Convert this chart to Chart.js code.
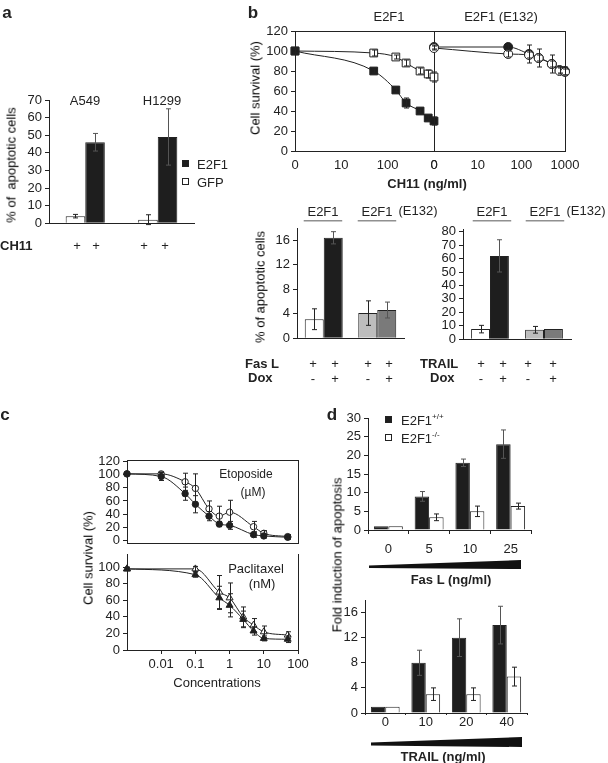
<!DOCTYPE html>
<html>
<head>
<meta charset="utf-8">
<script src="https://cdn.jsdelivr.net/npm/chart.js@4.4.0/dist/chart.umd.min.js"></script>
<style>
body { margin: 0; background: #fff; }
#fig { position: relative; width: 608px; height: 763px; overflow: hidden; font-family: "Liberation Sans", Arial, sans-serif; color: #222; }
#fig canvas { position: absolute; }
.t { position: absolute; white-space: nowrap; font-size: 13px; line-height: 1; transform: translate(-50%, -50%); will-change: transform; }
.t.l { transform: translate(0, -50%); }
.b { font-weight: bold; font-size: 13px; }
.p { font-weight: bold; font-size: 17px; }
.rot { transform: translate(-50%, -50%) rotate(-90deg); color: #000; }
.sq { position: absolute; width: 7px; height: 7px; border: 1px solid #222; box-sizing: border-box; }
.u { border-bottom: 1px solid #222; padding: 0 4px 2px; }
.wedge { position: absolute; background: #111; }
sup { font-size: 8px; vertical-align: 6px; }
</style>
</head>
<body>
<div id="fig"></div>
<script>
// ---- data ----
// a
const aCells = ['A549', 'H1299'];
const aGfp = [4, 2], aGfpErr = [1, 2.8];
const aE2f1 = [46, 49], aE2f1Err = [5, 16];

// b, survival curves (0 ng/ml is drawn at 1 on the log axis)
const bDose = [1, 50, 150, 250, 500, 750, 1000];
const bLeftTicks = ['0', '10', '100', '0'];
const bRightTicks = ['0', '10', '100', '1000'];
const bGfp = [100, 98, 94, 88, 80, 77, 74], bGfpErr = [2, 3, 2, 3, 3, 4, 5];
const bE2f1 = [100, 80, 61, 48, 40, 33, 30], bE2f1Err = [2, 2, 2, 5, 2, 2, 4];
const bE132Open = [103, 97, 96, 93, 87, 80, 79], bE132OpenErr = [2, 3, 3, 3, 3, 3, 3];
const bE132Filled = [104, 104, 97, 93, 87, 81, 80], bE132FilledErr = [2, 3, 9, 9, 9, 3, 4];

// b, apoptosis bars
const bGroups = ['E2F1', 'E2F1 (E132)'];
const fasNoDox = [3.1, 4.1], fasNoDoxErr = [1.7, 2.0];
const fasDox = [16.4, 4.6], fasDoxErr = [1.0, 1.3];
const trailNoDox = [7.5, 7], trailNoDoxErr = [2.8, 2.5];
const trailDox = [62, 7.5], trailDoxErr = [12, 0];

// c
const cTicks = ['0.01', '0.1', '1', '10', '100'];
const etoDose = [0.001, 0.01, 0.05, 0.1, 0.25, 0.5, 1, 5, 10, 50];
const etoFilled = [101, 97, 71, 55, 37, 25, 23, 9, 7, 5], etoFilledErr = [2, 6, 10, 13, 7, 4, 6, 4, 3, 3];
const etoOpen = [101, 101, 89, 79, 48, 37, 43, 21, 11, 6], etoOpenErr = [2, 3, 13, 22, 12, 15, 18, 8, 4, 3];
const paxDose = [0.001, 0.1, 0.5, 1, 2.5, 5, 10, 50];
const paxFilled = [98, 91, 63, 54, 37, 23, 14, 13], paxFilledErr = [2, 3, 14, 14, 10, 5, 3, 4];
const paxOpen = [98, 98, 70, 63, 40, 30, 22, 18], paxOpenErr = [2, 3, 20, 18, 12, 8, 7, 4];

// d
const fasDose = ['0', '5', '10', '25'];
const fasWt = [1, 9, 18, 23], fasWtErr = [0, 1.3, 1, 3.8];
const fasKo = [1, 3.4, 5, 6.4], fasKoErr = [0, 0.9, 1.4, 0.8];
const trailDose = ['0', '10', '20', '40'];
const trailWt = [1, 8, 12, 14], trailWtErr = [0, 2, 3, 3];
const trailKo = [1, 3, 3, 5.8], trailKoErr = [0, 1, 1, 1.5];

// ---- helpers ----
const INK = '#222';
const TICK = 13;
Chart.defaults.font.family = '"Liberation Sans", Arial, sans-serif';
Chart.defaults.font.size = TICK;
Chart.defaults.color = INK;

const fig = document.getElementById('fig');
const PT = 12, PR = 20;

// canvas sized so the plot area lands on (x0,y0)-(x1,y1)
function canvasFor(x0, y0, x1, y1, yW, xH) {
  const c = document.createElement('canvas');
  const w = x1 - x0 + yW + PR, h = y1 - y0 + PT + xH;
  c.width = w; c.height = h;
  c.style.left = (x0 - yW) + 'px';
  c.style.top = (y0 - PT) + 'px';
  c.style.width = w + 'px';
  c.style.height = h + 'px';
  fig.appendChild(c);
  return c;
}

function txt(html, x, y, cls) {
  const d = document.createElement('div');
  d.className = 't ' + (cls || '');
  d.style.left = x + 'px';
  d.style.top = y + 'px';
  d.innerHTML = html;
  fig.appendChild(d);
  return d;
}

function box(cls, x, y, w, h, clip) {
  const d = document.createElement('div');
  d.className = cls;
  d.style.cssText = `left:${x}px;top:${y}px;` + (w ? `width:${w}px;height:${h}px;` : '') + (clip ? `clip-path:${clip};` : '');
  fig.appendChild(d);
  return d;
}

const errorBars = {
  id: 'errorBars',
  afterDatasetsDraw(chart) {
    const ctx = chart.ctx;
    chart.data.datasets.forEach((ds, di) => {
      if (!ds.err) return;
      const meta = chart.getDatasetMeta(di);
      const ys = chart.scales[meta.yAxisID];
      ctx.save();
      ctx.strokeStyle = ds.errColor || INK;
      ctx.lineWidth = 1;
      meta.data.forEach((el, i) => {
        const e = ds.err[i];
        if (!e) return;
        const v = ds.data[i];
        const val = typeof v === 'object' ? v.y : v;
        const yt = ys.getPixelForValue(val + e), yb = ys.getPixelForValue(val - e);
        const x = Math.round(el.x) + 0.5;
        ctx.beginPath();
        ctx.moveTo(x, yt); ctx.lineTo(x, yb);
        ctx.moveTo(x - 2.5, yt); ctx.lineTo(x + 2.5, yt);
        ctx.moveTo(x - 2.5, yb); ctx.lineTo(x + 2.5, yb);
        ctx.stroke();
      });
      ctx.restore();
    });
  }
};

function opts(scales) {
  return {
    responsive: false,
    animation: false,
    layout: { padding: { top: PT, right: PR, left: 0, bottom: 0 } },
    plugins: { legend: { display: false }, tooltip: { enabled: false } },
    scales
  };
}

function yAxis(min, max, step, w, noTicks) {
  return {
    min, max, position: 'left',
    ticks: { display: !noTicks, stepSize: step, includeBounds: false, autoSkip: false, padding: 3, color: INK, font: { size: TICK } },
    grid: { display: !noTicks, drawOnChartArea: false, tickLength: 4, color: INK },
    border: { display: true, color: INK },
    afterFit: s => { s.width = w; }
  };
}

function frame(position) {
  const horiz = position === 'top' || position === 'bottom';
  return {
    type: 'linear', position, min: 0, max: 1,
    ticks: { display: false }, grid: { display: false },
    border: { display: true, color: INK },
    afterFit: s => { if (horiz) s.height = 0; else s.width = 0; }
  };
}

function catAxis(h, showTicks, pad, tick) {
  return {
    type: 'category', offset: true,
    ticks: { display: !!showTicks, padding: pad || 0, color: INK, font: { size: TICK }, maxRotation: 0, autoSkip: false },
    grid: { display: !!showTicks, drawOnChartArea: false, offset: true, tickLength: tick || 4, color: INK },
    border: { display: true, color: INK },
    afterFit: s => { s.height = h; }
  };
}

function logAxis(min, max, values, labels, h, marks) {
  return {
    type: 'logarithmic', min, max,
    afterBuildTicks: s => { s.ticks = values.map(v => ({ value: v })); },
    ticks: { display: !!labels, callback: (v, i) => labels ? labels[i] : '', autoSkip: false, maxRotation: 0, padding: 3, color: INK, font: { size: TICK } },
    grid: { display: !!marks, drawOnChartArea: false, tickLength: 4, color: INK },
    border: { display: true, color: INK },
    afterFit: s => { s.height = h; }
  };
}

function bars(data, err, fill, cp, errColor) {
  return { data, err, errColor, backgroundColor: fill, borderColor: INK, borderWidth: 1, barPercentage: 1, categoryPercentage: cp };
}

function curve(xs, ys, err, style, fill, r) {
  return {
    data: xs.map((x, i) => ({ x, y: ys[i] })), err,
    showLine: true, borderColor: INK, borderWidth: 1, cubicInterpolationMode: 'monotone',
    pointStyle: style, pointRadius: r, pointBackgroundColor: fill, pointBorderColor: INK, pointBorderWidth: 1,
    clip: false
  };
}

// ---- panel a ----
new Chart(canvasFor(49, 100, 194, 230, 32, 4), {
  type: 'bar',
  data: { labels: aCells, datasets: [bars(aGfp, aGfpErr, '#fff', 0.54), bars(aE2f1, aE2f1Err, '#1e1e1e', 0.54, '#555')] },
  options: opts({ x: catAxis(4, false), y: yAxis(0, 70, 10, 32) }),
  plugins: [errorBars]
});
txt('a', 7, 12, 'p');
txt('A549', 85, 100);
txt('H1299', 162, 100);
txt('% of&nbsp; apoptotic cells', 11, 165, 'rot');
txt('CH11', 0, 245, 'b l');
[77, 96, 144, 165].forEach(x => txt('+', x, 245));
box('sq', 182, 160, 0, 0).style.background = '#1e1e1e';
txt('E2F1', 197, 164, 'l');
box('sq', 182, 178, 0, 0).style.background = '#fff';
txt('GFP', 197, 182, 'l');

// ---- panel b, survival ----
new Chart(canvasFor(295, 31, 434, 151, 40, 24), {
  type: 'line',
  data: { datasets: [
    curve(bDose, bE2f1, bE2f1Err, 'rect', '#1e1e1e', 5.5),
    curve(bDose, bGfp, bGfpErr, 'rect', '#fff', 5.5)
  ] },
  options: opts({ x: logAxis(1, 1000, [1, 10, 100, 1000], bLeftTicks, 24, false), y: yAxis(0, 120, 20, 40), xTop: frame('top') }),
  plugins: [errorBars]
});
new Chart(canvasFor(434, 31, 565, 151, 10, 24), {
  type: 'line',
  data: { datasets: [
    curve(bDose, bE132Open, bE132OpenErr, 'circle', '#fff', 4.5),
    curve(bDose, bE132Filled, bE132FilledErr, 'circle', '#1e1e1e', 4.5)
  ] },
  options: opts({ x: logAxis(1, 1000, [1, 10, 100, 1000], bRightTicks, 24, false), y: yAxis(0, 120, 20, 10, true), xTop: frame('top'), yRight: frame('right') }),
  plugins: [errorBars]
});
txt('b', 253, 12, 'p');
txt('E2F1', 389, 16);
txt('E2F1 (E132)', 501, 16);
txt('Cell survival (%)', 255, 88, 'rot');
txt('CH11 (ng/ml)', 427, 183, 'b');

// ---- panel b, apoptosis ----
new Chart(canvasFor(297, 228, 404, 345, 32, 4), {
  type: 'bar',
  data: { labels: bGroups, datasets: [
    bars(fasNoDox, fasNoDoxErr, ['#fff', '#bdbdbd'], 0.71),
    bars(fasDox, fasDoxErr, ['#1e1e1e', '#7a7a7a'], 0.71, '#555')
  ] },
  options: opts({ x: catAxis(4, false), y: yAxis(0, 18, 4, 32) }),
  plugins: [errorBars]
});
new Chart(canvasFor(463, 229, 571, 346, 32, 4), {
  type: 'bar',
  data: { labels: bGroups, datasets: [
    bars(trailNoDox, trailNoDoxErr, ['#fff', '#bdbdbd'], 0.7),
    bars(trailDox, trailDoxErr, ['#1e1e1e', '#7a7a7a'], 0.7, '#555')
  ] },
  options: opts({ x: catAxis(4, false), y: yAxis(0, 82, 10, 32) }),
  plugins: [errorBars]
});
txt('<span class="u">E2F1</span>', 323, 211);
txt('<span class="u">E2F1</span>', 377, 211);
txt('(E132)', 418, 210);
txt('<span class="u">E2F1</span>', 492, 211);
txt('<span class="u">E2F1</span>', 545, 211);
txt('(E132)', 586, 210);
txt('% of apoptotic cells', 260, 287, 'rot');
txt('Fas L', 245, 363, 'b l');
txt('Dox', 248, 377, 'b l');
txt('TRAIL', 420, 363, 'b l');
txt('Dox', 430, 377, 'b l');
[313, 335, 368, 389, 481, 503, 528, 553].forEach(x => txt('+', x, 363));
['-', '+', '-', '+'].forEach((s, i) => { txt(s, [313, 335, 368, 389][i], 378); txt(s, [481, 503, 528, 553][i], 378); });

// ---- panel c ----
new Chart(canvasFor(127, 460, 298, 554, 32, 0), {
  type: 'line',
  data: { datasets: [
    curve(etoDose, etoFilled, etoFilledErr, 'circle', '#1e1e1e', 3.2),
    curve(etoDose, etoOpen, etoOpenErr, 'circle', '#fff', 3.2)
  ] },
  options: opts({ x: logAxis(0.001, 100, [0.01, 0.1, 1, 10], null, 0, false), y: yAxis(-4, 122, 20, 32), xTop: frame('top'), yRight: frame('right') }),
  plugins: [errorBars]
});
new Chart(canvasFor(127, 554, 298, 650, 32, 26), {
  type: 'line',
  data: { datasets: [
    curve(paxDose, paxFilled, paxFilledErr, 'triangle', '#1e1e1e', 4),
    curve(paxDose, paxOpen, paxOpenErr, 'triangle', '#fff', 4)
  ] },
  options: opts({ x: logAxis(0.001, 100, [0.01, 0.1, 1, 10, 100], cTicks, 26, true), y: yAxis(0, 116, 20, 32), yRight: frame('right') }),
  plugins: [errorBars]
});
txt('c', 5, 414, 'p');
txt('Etoposide', 246, 474).style.fontSize = '12px';
txt('(&micro;M)', 253, 492).style.fontSize = '12px';
txt('Paclitaxel', 256, 568);
txt('(nM)', 262, 583);
txt('Cell survival (%)', 88, 558, 'rot');
txt('Concentrations', 217, 682);

// ---- panel d ----
new Chart(canvasFor(368, 418, 531, 530, 32, 30), {
  type: 'bar',
  data: { labels: fasDose, datasets: [
    bars(fasWt, fasWtErr, '#1e1e1e', 0.71, '#555'),
    bars(fasKo, fasKoErr, '#fff', 0.71)
  ] },
  options: opts({ x: catAxis(30, true, 8), y: yAxis(0, 30, 5, 32) }),
  plugins: [errorBars]
});
new Chart(canvasFor(365, 600, 527, 713, 32, 16), {
  type: 'bar',
  data: { labels: trailDose, datasets: [
    bars(trailWt, trailWtErr, '#1e1e1e', 0.71, '#555'),
    bars(trailKo, trailKoErr, '#fff', 0.71)
  ] },
  options: opts({ x: catAxis(16, true, 0, 2), y: yAxis(0, 18, 4, 32) }),
  plugins: [errorBars]
});
txt('d', 332, 414, 'p');
box('sq', 385, 416, 0, 0).style.background = '#1e1e1e';
txt('E2F1<sup>+/+</sup>', 401, 420, 'l');
box('sq', 385, 434, 0, 0).style.background = '#fff';
txt('E2F1<sup>-/-</sup>', 401, 438, 'l');
txt('Fold induction of apoptosis', 337, 555, 'rot');
box('wedge', 369, 560, 152, 9, 'polygon(0 60%, 100% 0, 100% 100%, 0 90%)');
txt('Fas L (ng/ml)', 451, 579, 'b');
box('wedge', 371, 737, 151, 10, 'polygon(0 55%, 100% 0, 100% 100%, 0 85%)');
txt('TRAIL (ng/ml)', 443, 756, 'b');
</script>
</body>
</html>
